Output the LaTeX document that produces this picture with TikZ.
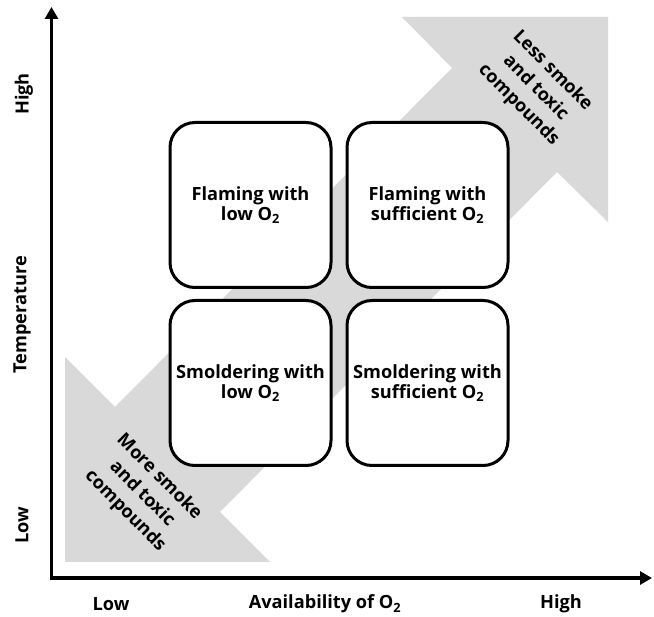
\documentclass[tikz,border=0pt]{standalone}
\usepackage{fontspec}
\setmainfont{Open Sans}
\usetikzlibrary{positioning,arrows.meta}

\begin{document}
\begin{tikzpicture}[x=1pt, y=-1pt, >={Triangle[length=12pt,width=13pt]}, font=\bfseries\fontsize{18.2}{19.5}\selectfont]
	%define styles
	\tikzset{
		regime/.style={rectangle, rounded corners=25pt, minimum width=161pt, minimum height=165pt, align=center, draw=black, line width=3pt, fill=white},
		axis/.style={line width=3.3pt, <->},
		trend/.style={fill=black!15},
		trendtext/.style={rotate=-45, align=center, font=\bfseries\fontsize{18.2}{24}\selectfont},
	}
	\useasboundingbox (0,0) rectangle (654,617);
	%define trend arrow
	\fill[trend] (608,17) -- (608,222) -- (557,172) -- (220,512) -- (270,562) -- (65,562)
		-- (65,357) -- (115,407) -- (452,68) -- (402,17) -- cycle;
	\node[trendtext] (less) at (535.5,88) {Less smoke\\and toxic\\compounds};
	\node[trendtext] (more) at (142,494) {More smoke\\and toxic\\compounds};
	%define nodes
	\node[regime] (flamelow) at (250.5,205) {Flaming with\\low O\textsubscript{2}};
	\node[regime, right=13pt of flamelow] (flamesuff) {Flaming with\\sufficient O\textsubscript{2}};
	\node[regime, below=10pt of flamelow] (smoldlow) {Smoldering with\\low O\textsubscript{2}};
	\node[regime, below=10pt of flamesuff] (smoldsuff) {Smoldering with\\sufficient O\textsubscript{2}};
	%define axes
	\coordinate (ytip) at (51.5,7);
	\coordinate (xtip) at (652,578);
	\draw[axis] (ytip) |- (xtip);
	\node[rotate=90] (ylow) at (22,525) {Low};
	\node[rotate=90] (ytitle) at (22,315) {Temperature};
	\node[rotate=90] (yhigh) at (24,94) {High};
	\node (xlow) at (111,604) {Low};
	\node (xtitle) at (325,604) {Availability of O\textsubscript{2}};
	\node (xhigh) at (561,604) {High};
\end{tikzpicture}
\end{document}
